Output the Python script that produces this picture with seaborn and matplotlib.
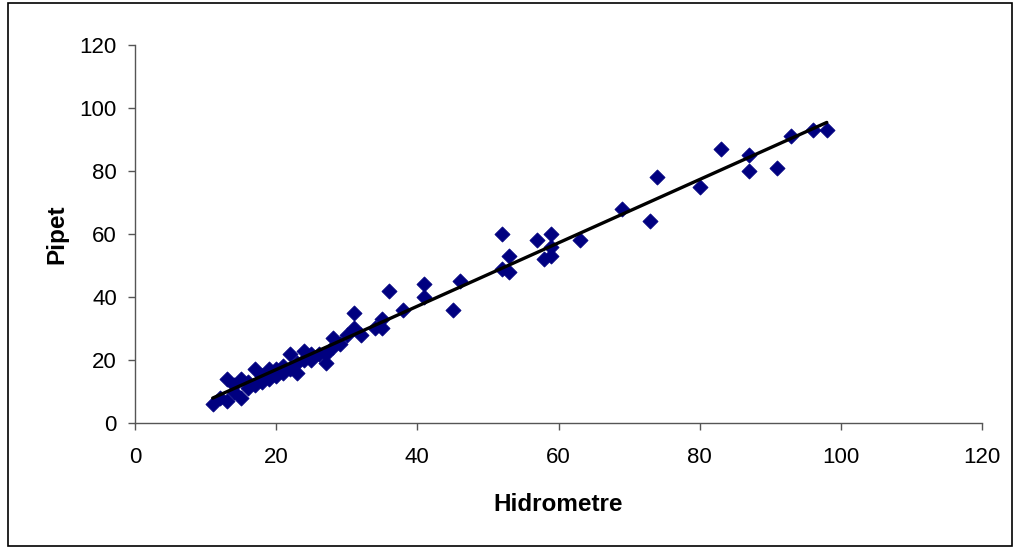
import numpy as np
import pandas as pd
import matplotlib
matplotlib.use("Agg")
import matplotlib.pyplot as plt
import seaborn as sns
from matplotlib.patches import Rectangle

# Particle-size fraction measured by hydrometer vs. pipette
hidrometre = [11, 12, 13, 13, 14, 14, 15, 15, 16, 16, 17, 17, 18, 18, 19, 19,
              20, 20, 21, 21, 22, 22, 23, 23, 24, 24, 25, 25, 26, 27, 27, 28,
              28, 29, 30, 31, 31, 32, 34, 35, 35, 36, 38, 41, 41, 45, 46, 52,
              52, 53, 53, 57, 58, 59, 59, 59, 63, 69, 73, 74, 80, 83, 87, 87,
              91, 93, 96, 98]
pipet = [6, 8, 14, 7, 10, 12, 14, 8, 11, 13, 17, 12, 13, 15, 17, 14,
         17, 15, 16, 18, 22, 17, 16, 19, 23, 20, 20, 22, 22, 19, 22, 27,
         24, 25, 28, 35, 30, 28, 30, 33, 30, 42, 36, 44, 40, 36, 45, 60,
         49, 53, 48, 58, 52, 60, 56, 53, 58, 68, 64, 78, 75, 87, 85, 80,
         81, 91, 93, 93]

x_ticks = [0, 20, 40, 60, 80, 100, 120]
y_ticks = [0, 20, 40, 60, 80, 100, 120]

df = pd.DataFrame({"Hidrometre": hidrometre, "Pipet": pipet})

sns.set_theme(style="white")
plt.rcParams["font.family"] = ["Liberation Sans", "DejaVu Sans"]
plt.rcParams["text.color"] = "black"
plt.rcParams["axes.labelcolor"] = "black"
plt.rcParams["xtick.color"] = "black"
plt.rcParams["ytick.color"] = "black"

fig = plt.figure(figsize=(10.16, 5.48), dpi=100)
ax = fig.add_axes([0.1329, 0.2281, 0.8337, 0.6898])

sns.scatterplot(data=df, x="Hidrometre", y="Pipet", marker="D", s=60,
                color="#000080", edgecolor="#000080", linewidth=0.5, ax=ax,
                zorder=2)
sns.regplot(data=df, x="Hidrometre", y="Pipet", scatter=False, ci=None,
            truncate=True, color="black", line_kws={"linewidth": 2.4,
                                                    "zorder": 3}, ax=ax)

ax.set_xlim(0, 120)
ax.set_ylim(0, 120)
ax.set_xticks(x_ticks)
ax.set_yticks(y_ticks)
ax.tick_params(axis="both", which="major", direction="out", length=5,
               width=1, labelsize=16, left=True, bottom=True,
               labelcolor="black", color="#555555")
ax.tick_params(axis="x", pad=12)
ax.tick_params(axis="y", pad=8)
for s in ["top", "right"]:
    ax.spines[s].set_visible(False)
for s in ["left", "bottom"]:
    ax.spines[s].set_color("#555555")
    ax.spines[s].set_linewidth(1)

ax.set_xlabel("Hidrometre", fontsize=17.5, fontweight="bold", labelpad=18,
              color="black")
ax.set_ylabel("Pipet", fontsize=17.5, fontweight="bold", labelpad=8,
              color="black")

# outer frame around the whole chart area
fig.patches.append(Rectangle((0.008, 0.004), 0.988, 0.99, transform=fig.transFigure,
                             fill=False, edgecolor="black", linewidth=1.2))

fig.savefig("out.png", dpi=100, facecolor="white")
